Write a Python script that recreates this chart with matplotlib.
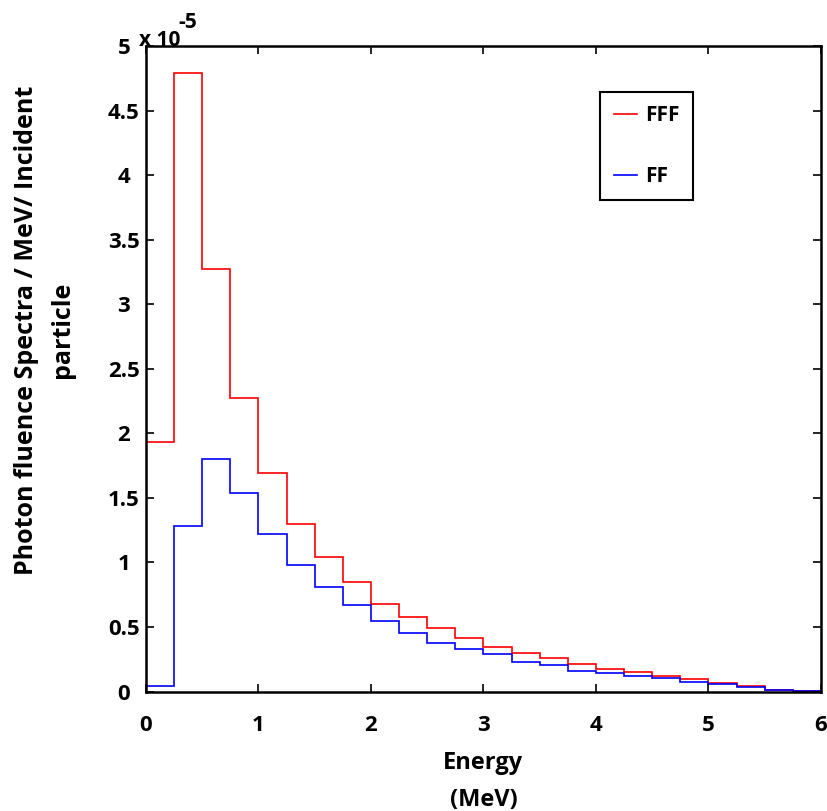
import numpy as np
import matplotlib.pyplot as plt

# bin edges (MeV) and fluence values (x 1e-5)
edges = np.arange(0, 6.01, 0.25)
fff = [1.93, 4.79, 3.27, 2.27, 1.69, 1.30, 1.04, 0.845, 0.68, 0.577, 0.49, 0.416,
       0.346, 0.297, 0.258, 0.217, 0.178, 0.15, 0.122, 0.098, 0.07, 0.044, 0.015, 0.003]
ff = [0.04, 1.28, 1.80, 1.54, 1.22, 0.98, 0.81, 0.67, 0.545, 0.455, 0.375, 0.33,
      0.29, 0.228, 0.203, 0.161, 0.143, 0.122, 0.105, 0.076, 0.058, 0.037, 0.014, 0.004]
ytick_labels = ['0', '0.5', '1', '1.5', '2', '2.5', '3', '3.5', '4', '4.5', '5']

plt.rcParams['font.family'] = ['Open Sans', 'DejaVu Sans']
plt.rcParams['font.weight'] = 'bold'

fig = plt.figure(figsize=(8.28, 8.11), dpi=100)
ax = fig.add_axes([0.1763, 0.1473, 0.8152, 0.796])

ax.stairs(np.array(fff) * 1e-5, edges, color='red', lw=1.2, baseline=0, label='FFF')
ax.stairs(np.array(ff) * 1e-5, edges, color='blue', lw=1.2, baseline=0, label='FF')

ax.set_xlim(0, 6)
ax.set_ylim(0, 5e-5)
ax.set_xticks(range(7))
ax.set_yticks(np.arange(0, 5.01, 0.5) * 1e-5)
ax.set_yticklabels(ytick_labels)
ax.tick_params(direction='in', top=True, right=True, length=6, width=1.2, labelsize=16)
ax.tick_params(axis='x', pad=17)
ax.tick_params(axis='y', pad=16)
for lab in ax.get_xticklabels():
    lab.set_fontweight('bold')
for lab in ax.get_yticklabels():
    lab.set_fontweight('bold')
    lab.set_horizontalalignment('center')
for s in ax.spines.values():
    s.set_linewidth(1.8)

# offset text like MATLAB
fig.text(139 / 828, 1 - 40 / 811, 'x 10', fontsize=15, fontweight='bold', va='center')
fig.text(178 / 828, 1 - 22 / 811, '-5', fontsize=15, fontweight='bold', va='center')

ax.set_xlabel('Energy\n(MeV)', fontsize=17, fontweight='bold', linespacing=1.75)
ax.xaxis.set_label_coords(0.5, -0.092)
ax.set_ylabel('Photon fluence Spectra / MeV/ Incident\nparticle', fontsize=18,
              fontweight='bold', linespacing=1.6)
ax.yaxis.set_label_coords(-0.105, 0.56)

leg = ax.legend(loc='upper left', bbox_to_anchor=(0.673, 0.929), fontsize=15,
                handlelength=1.1, handletextpad=0.4, labelspacing=1.9,
                borderpad=0.65, fancybox=False, edgecolor='black', framealpha=1,
                borderaxespad=0)
leg.get_frame().set_linewidth(1.5)
for t in leg.get_texts():
    t.set_fontweight('bold')

fig.savefig('out.png', dpi=100)
